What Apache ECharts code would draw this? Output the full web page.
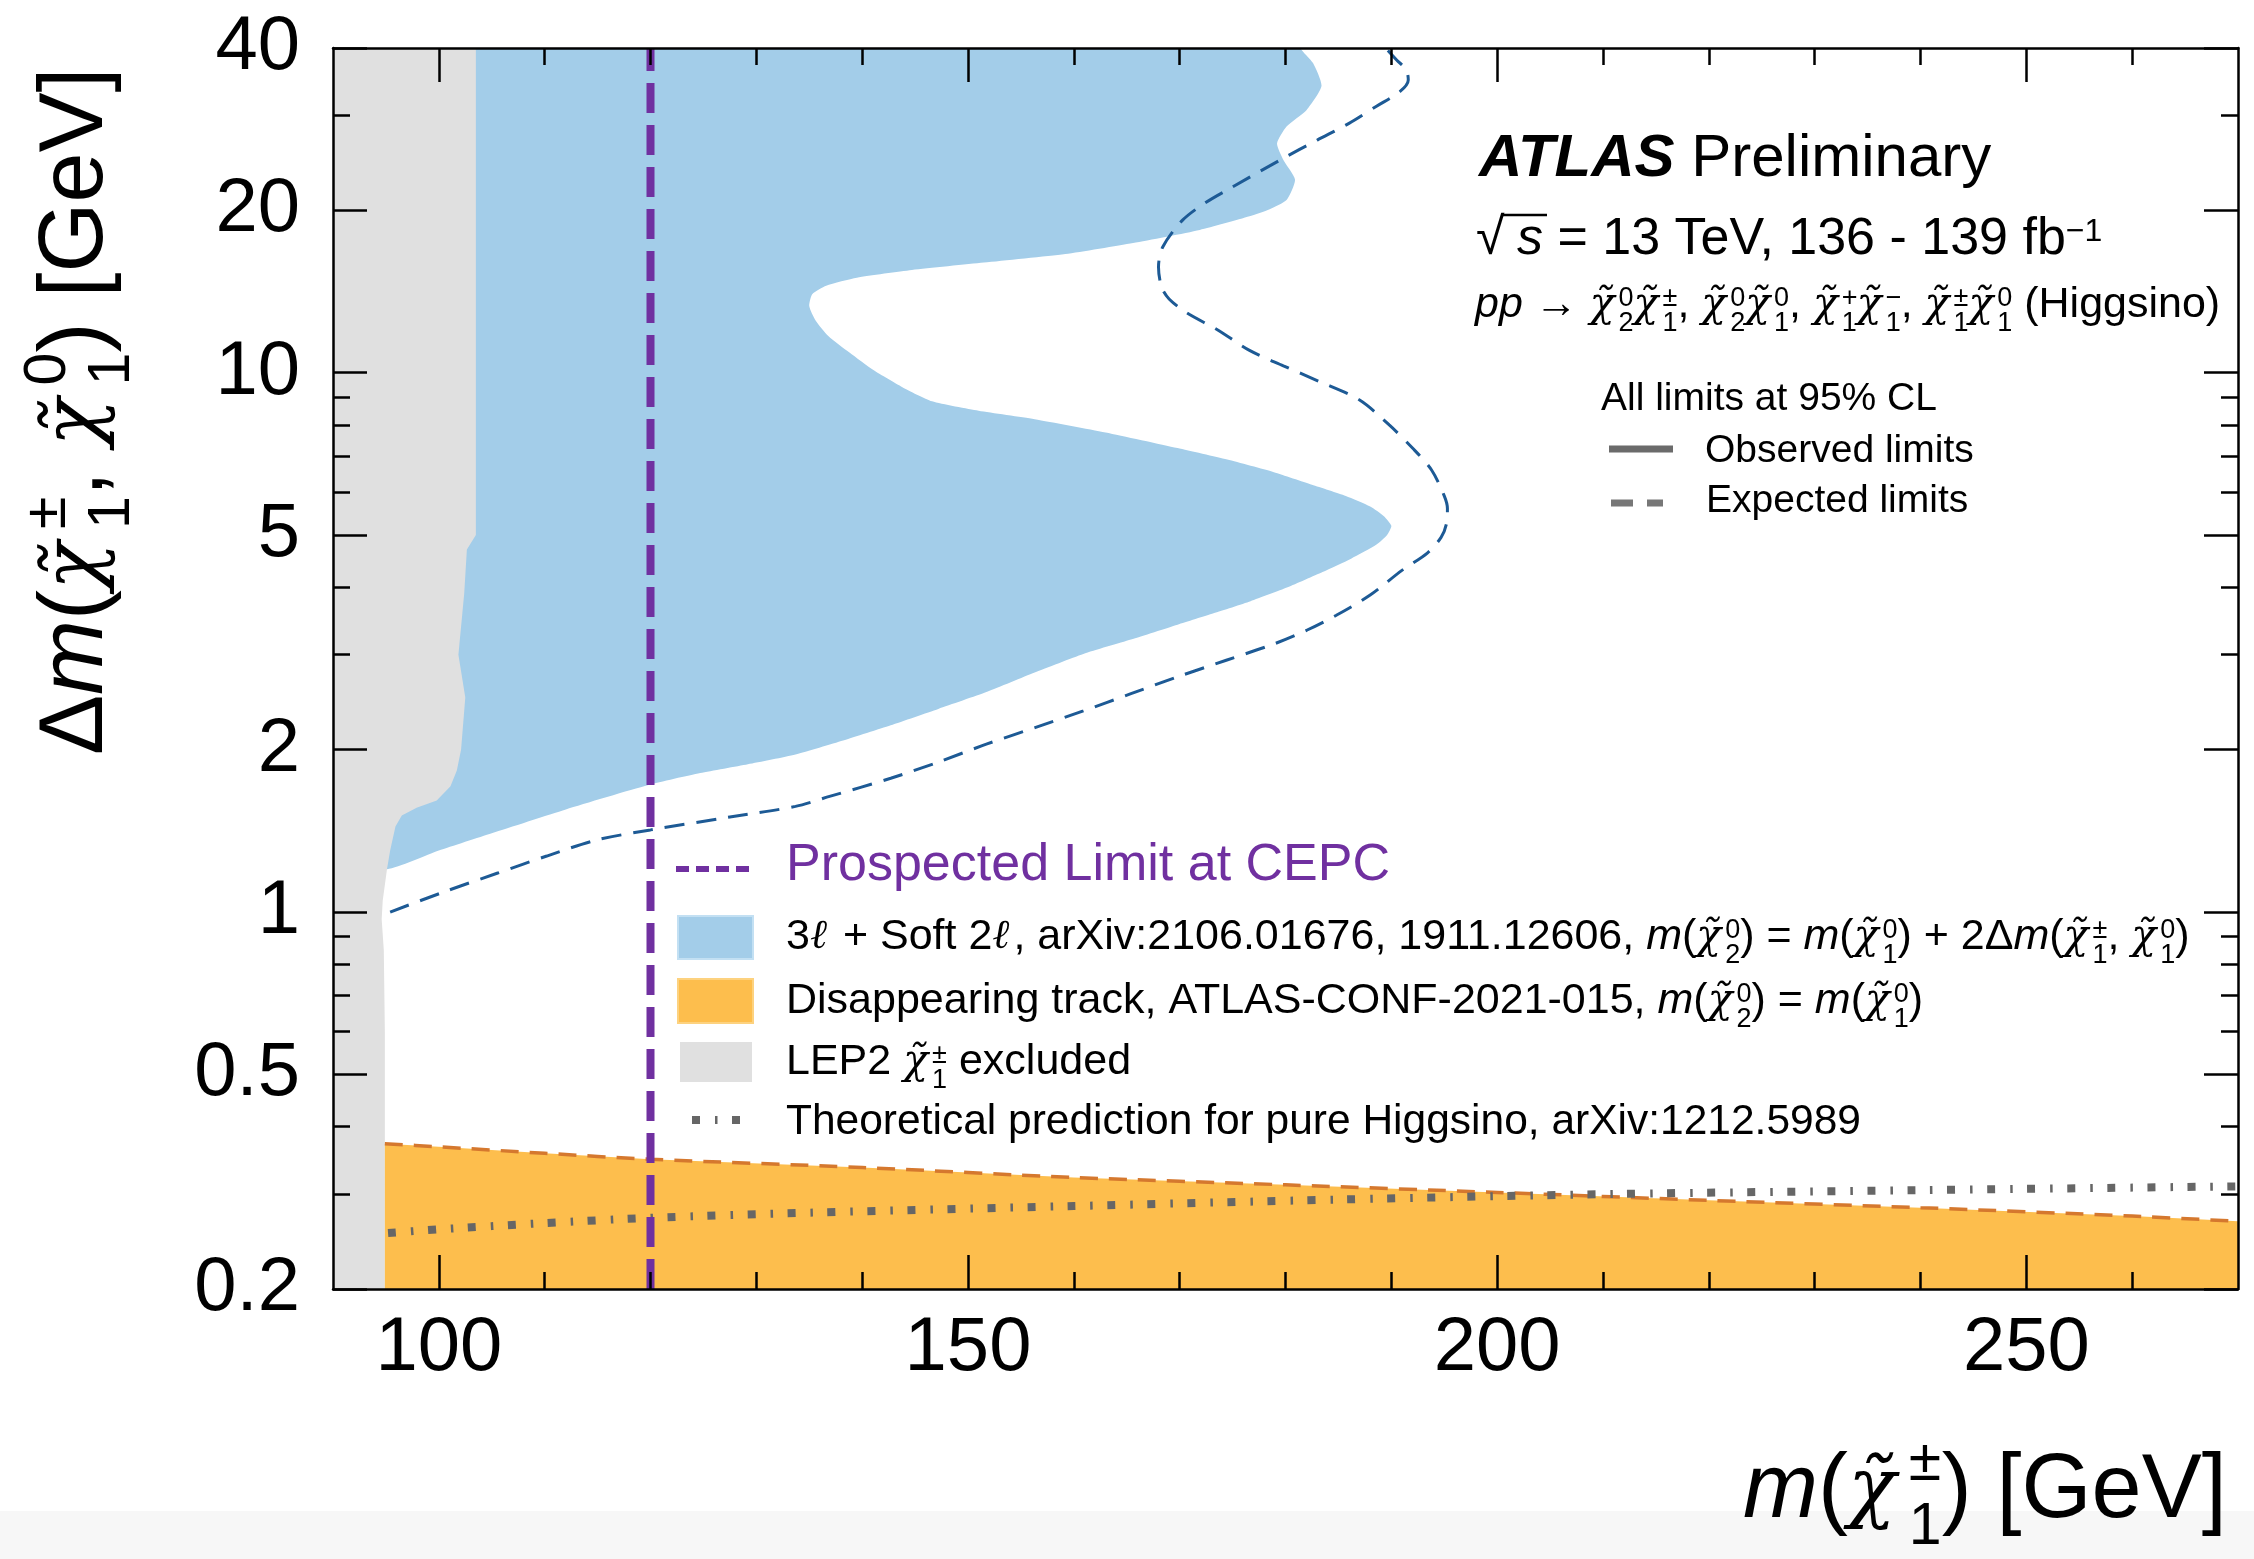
<!DOCTYPE html>
<html><head><meta charset="utf-8">
<script src="https://cdn.jsdelivr.net/npm/echarts@6.0.0/dist/echarts.min.js"></script>
<style>html,body{margin:0;padding:0;background:#fff}#chart{width:2254px;height:1559px}</style>
</head><body><div id="chart"></div>
<script>
// ---------------- data ----------------
const xRange = [90, 270];
const yRange = [0.2, 40];
const xMajorTicks = [100, 150, 200, 250];
const xMinorTicks = [110, 120, 130, 140, 160, 170, 180, 190, 210, 220, 230, 240, 260];
const yMajorTicks = [0.2, 0.5, 1, 2, 5, 10, 20, 40];
const yMinorTicks = [0.3, 0.4, 0.6, 0.7, 0.8, 0.9, 3, 4, 6, 7, 8, 9, 30];
const cepcLimit = 120;

// LEP2 chargino exclusion boundary [m(chi1+-), dm]
const lep2Excluded = [
  [103.5, 44], [103.5, 5.0], [102.65, 4.7], [102.4, 3.9], [101.85, 3.0], [102.5, 2.5],
  [102.1, 2.0], [101.7, 1.83], [101.1, 1.71], [99.8, 1.61], [97.9, 1.56], [96.5, 1.51],
  [95.9, 1.44], [95.4, 1.30], [95.1, 1.20], [94.7, 1.05], [94.6, 0.97], [94.8, 0.85],
  [94.9, 0.6], [94.9, 0.18]
];
// 3l + soft 2l observed exclusion contour
const softLeptonObserved = [
  [181.0, 44], [181.4, 40], [182.6, 37.5], [183.4, 34.0], [182.0, 30.7], [180.1, 28.6],
  [179.2, 26.6], [179.8, 24.8], [180.9, 22.8], [180.1, 20.9], [178.5, 20.1], [176.6, 19.5],
  [171.9, 18.4], [165.6, 17.4], [159.2, 16.6], [151.5, 16.0], [144.7, 15.5], [139.5, 15.0],
  [136.6, 14.5], [135.3, 14.0], [135.0, 13.3], [135.6, 12.5], [136.8, 11.7], [138.8, 10.9],
  [141.1, 10.1], [143.8, 9.4], [146.6, 8.85], [151.0, 8.5], [156.3, 8.2], [163.0, 7.75],
  [169.8, 7.25], [174.5, 6.9], [178.9, 6.54], [182.5, 6.2], [185.7, 5.91], [188.0, 5.65],
  [189.3, 5.42], [190.0, 5.2], [189.6, 5.0], [188.6, 4.8], [186.2, 4.52], [183.5, 4.27],
  [180.2, 4.0], [176.7, 3.77], [173.2, 3.58], [169.8, 3.41], [165.4, 3.2], [160.9, 3.01],
  [156.3, 2.78], [151.8, 2.56], [147.2, 2.38], [142.7, 2.22], [138.2, 2.08], [133.7, 1.96],
  [129.2, 1.88], [124.7, 1.81], [119.8, 1.72], [112.0, 1.55], [105.0, 1.40], [100.0, 1.30],
  [95.1, 1.20]
];
// 3l + soft 2l expected limit
const softLeptonExpected = [
  [95.4, 1.00], [100.5, 1.09], [105.5, 1.18], [110.2, 1.27], [114.9, 1.36], [120.0, 1.42],
  [127.5, 1.50], [133.7, 1.57], [137.0, 1.64], [142.7, 1.77], [147.3, 1.90], [151.8, 2.05],
  [156.4, 2.20], [160.9, 2.36], [165.4, 2.54], [169.8, 2.73], [174.4, 2.93], [178.9, 3.14],
  [182.0, 3.33], [184.8, 3.55], [188.0, 3.87], [191.0, 4.30], [193.4, 4.63], [194.7, 4.95],
  [195.2, 5.24], [195.3, 5.6], [195.0, 5.91], [193.8, 6.6], [192.0, 7.25], [189.8, 8.0],
  [187.0, 8.9], [183.1, 9.65], [179.8, 10.3], [176.6, 11.0], [173.6, 12.0], [170.7, 12.9],
  [169.0, 13.7], [168.3, 14.4], [168.0, 15.7], [168.4, 17.1], [170.3, 19.2], [172.5, 20.7],
  [175.0, 22.1], [179.5, 24.8], [183.0, 27.0], [186.0, 29.0], [188.6, 31.2], [190.8, 33.2],
  [191.6, 34.9], [191.4, 36.5], [190.5, 38.0], [189.2, 40.5]
];
// Disappearing track observed limit (upper edge)
const disappearingTrackObserved = [
  [94.9, 0.372], [100, 0.367], [110, 0.357], [120, 0.348], [140, 0.336], [160, 0.322],
  [180, 0.312], [200, 0.302], [220, 0.292], [240, 0.283], [260, 0.273], [270, 0.267]
];
// Pure Higgsino theoretical mass splitting
const higgsinoTheory = [
  [95.2, 0.254], [100, 0.258], [110, 0.265], [120, 0.271], [135, 0.277], [160, 0.285],
  [185, 0.293], [211, 0.300], [240, 0.305], [270, 0.310]
];

// ---------------- helpers ----------------
const FONT = '"Liberation Sans", Arial, Helvetica, sans-serif';
const lg = Math.log10;
const toXY = pts => pts.map(p => [p[0], lg(p[1])]);
const X0 = xRange[0] - 5;

function area(name, pts, color, z, smooth) {
  const poly = toXY(pts);
  return {
    type: 'custom', name: name, z: z, silent: true,
    xAxisIndex: 0, yAxisIndex: 0,
    data: [poly[0]],
    renderItem: function (params, api) {
      const cs = params.coordSys;
      return {
        type: 'polygon',
        shape: { points: poly.map(p => api.coord(p)), smooth: smooth || 0 },
        style: { fill: color, stroke: null, lineWidth: 0 },
        clipPath: { type: 'rect', shape: { x: cs.x, y: cs.y, width: cs.width, height: cs.height } }
      };
    }
  };
}
const tickStyle = { color: '#000', width: 2.5 };
function xAx(pos, vals, len, line, label) {
  return {
    type: 'value', min: xRange[0], max: xRange[1], position: pos, z: 20,
    axisLine: { show: line, onZero: false, lineStyle: tickStyle },
    axisTick: { show: true, inside: true, length: len, customValues: vals, lineStyle: tickStyle },
    axisLabel: label ? { show: true, customValues: vals, fontSize: 76, fontFamily: FONT, color: '#000', margin: 22 } : { show: false },
    splitLine: { show: false }, minorTick: { show: false }
  };
}
function yAx(pos, vals, len, line, label) {
  const lv = vals.map(lg);
  return {
    type: 'value', min: lg(yRange[0]), max: lg(yRange[1]), position: pos, z: 20,
    axisLine: { show: line, onZero: false, lineStyle: tickStyle },
    axisTick: { show: true, inside: true, length: len, customValues: lv, lineStyle: tickStyle },
    axisLabel: label ? {
      show: true, customValues: lv, fontSize: 76, fontFamily: FONT, color: '#000', margin: 33,
      showMinLabel: true, showMaxLabel: true,
      formatter: v => String(parseFloat(Math.pow(10, v).toPrecision(2)))
    } : { show: false },
    splitLine: { show: false }, minorTick: { show: false }
  };
}
// scripts positioned relative to the line centre via padding (verticalAlign middle)
function rich(fs, big) {
  const sc = big ? 0.66 : 0.62;
  const supOff = big ? -0.31 : -0.14;
  const subOff = big ? 0.40 : 0.44;
  const sub = Math.round(fs * sc);
  const script = (pad) => ({ fontFamily: FONT, fontSize: sub, lineHeight: sub, verticalAlign: 'middle', align: 'left', fill: '#000', padding: pad });
  const sup = script([0, 0, Math.round(-2 * supOff * fs), 0]);
  const s0 = Object.assign({}, sup, { width: 0 });
  const sb = script([Math.round(2 * subOff * fs), 0, 0, 0]);
  return {
    i: { fontFamily: FONT, fontSize: fs, fontStyle: 'italic', align: 'left', fill: '#000' },
    b: { fontFamily: FONT, fontSize: fs, fontStyle: 'italic', fontWeight: 'bold', align: 'left', fill: '#000' },
    c: { fontFamily: '"DejaVu Serif", serif', fontSize: Math.round(fs * (big ? 0.88 : 0.95)), fontStyle: 'italic', align: 'left', fill: '#000',
         padding: [0, Math.round(fs * (big ? 0.14 : 0.09)), 0, 0] },
    r: { fontFamily: FONT, fontSize: fs, fill: '#000', align: 'left', width: Math.round(fs * 0.78) },
    s0: s0, sp: sup, sb: sb
  };
}
function txt(x, y, text, fs, extra, big) {
  return {
    type: 'text', x: x, y: y, z: 100, silent: true,
    style: Object.assign({
      text: text, fontSize: fs, fontFamily: FONT, fill: '#000',
      align: 'left', verticalAlign: 'middle', textAlign: 'left', textVerticalAlign: 'middle',
      lineHeight: Math.round(fs * 1.25), rich: rich(fs, big)
    }, extra || {})
  };
}
function seg(x1, y1, x2, y2, color, w, dash) {
  return { type: 'line', z: 100, silent: true, shape: { x1, y1, x2, y2 },
    style: { stroke: color, lineWidth: w, lineDash: dash || null, lineCap: 'butt' } };
}
function box(x, y, w, h, fill, stroke) {
  return { type: 'rect', z: 100, silent: true, shape: { x, y, width: w, height: h },
    style: { fill: fill, stroke: stroke || null, lineWidth: stroke ? 2 : 0 } };
}

const C = '{c|χ̃}';
const BLUE = '#a3cde9', ORANGE = '#fdbe4d', GREY = '#e0e0e0', PURPLE = '#7030a0';

const graphics = [
  { type: 'rect', z: 0, silent: true, shape: { x: 0, y: 1511, width: 2254, height: 48 }, style: { fill: '#f7f7f7' } },
  // ATLAS header
  txt(1479, 159, '{b|ATLAS} Preliminary', 60),
  txt(1476, 240, '{r|√}{i|s} = 13 TeV, 136 - 139 fb{sp|−1}', 52),
  seg(1503, 215, 1547, 215, '#000', 2.5),
  txt(1475, 305, '{i|pp} → ' + C + '{s0|0}{sb|2}' + C + '{s0|±}{sb|1}, ' + C + '{s0|0}{sb|2}' + C + '{s0|0}{sb|1}, ' +
      C + '{s0|+}{sb|1}' + C + '{s0|−}{sb|1}, ' + C + '{s0|±}{sb|1}' + C + '{s0|0}{sb|1} (Higgsino)', 43),
  txt(1601, 399, 'All limits at 95% CL', 39),
  seg(1609, 449, 1673, 449, '#6b6b6b', 7),
  txt(1705, 451, 'Observed limits', 39),
  seg(1611, 503, 1663, 503, '#777', 7, [22, 14]),
  txt(1706, 501, 'Expected limits', 39),
  // lower legend
  seg(676, 869, 750, 869, PURPLE, 6, [13, 7]),
  txt(786, 866, 'Prospected Limit at CEPC', 52, { fill: PURPLE, rich: {} }),
  box(678, 916, 75, 43, BLUE, '#c3e0f3'),
  txt(786, 937, '3{c|ℓ} + Soft 2{c|ℓ}, arXiv:2106.01676, 1911.12606, {i|m}(' + C + '{s0|0}{sb|2}) = {i|m}(' + C +
      '{s0|0}{sb|1}) + 2Δ{i|m}(' + C + '{s0|±}{sb|1}, ' + C + '{s0|0}{sb|1})', 43),
  box(678, 979, 75, 44, ORANGE, '#fdd27f'),
  txt(786, 1001, 'Disappearing track, ATLAS-CONF-2021-015, {i|m}(' + C + '{s0|0}{sb|2}) = {i|m}(' + C + '{s0|0}{sb|1})', 43),
  box(680, 1042, 72, 40, GREY),
  txt(786, 1062, 'LEP2 ' + C + '{s0|±}{sb|1} excluded', 43),
  seg(692, 1120, 740, 1120, '#666', 8, [8, 15, 2.5, 14.5]),
  txt(786, 1122, 'Theoretical prediction for pure Higgsino, arXiv:1212.5989', 42.5),
  // axis titles (left aligned so zero-width stacked scripts lay out correctly)
  txt(1743, 1492, '{i|m}(' + C + '{s0|±}{sb|1}) [GeV]', 90, null, true),
  Object.assign(txt(77, 755, 'Δ{i|m}(' + C + '{s0|±}{sb|1}, ' + C + '{s0|0}{sb|1}) [GeV]', 90, null, true),
    { rotation: Math.PI / 2 })
];

const chart = echarts.init(document.getElementById('chart'), null, { renderer: 'canvas' });
chart.setOption({
  animation: false,
  backgroundColor: '#ffffff',
  grid: { left: 333, top: 48, width: 1905, height: 1241, containLabel: false, outerBoundsMode: 'none', show: false },
  xAxis: [
    xAx('bottom', xMajorTicks, 34, true, true),
    xAx('bottom', xMinorTicks, 17, false, false),
    xAx('top', xMajorTicks, 34, true, false),
    xAx('top', xMinorTicks, 17, false, false)
  ],
  yAxis: [
    yAx('left', yMajorTicks, 34, true, true),
    yAx('left', yMinorTicks, 17, false, false),
    yAx('right', yMajorTicks, 34, true, false),
    yAx('right', yMinorTicks, 17, false, false)
  ],
  series: [
    area('3l + Soft 2l observed', softLeptonObserved.concat([[X0, 1.2], [X0, 44]]), BLUE, 2, 0.2),
    { type: 'line', name: '3l + Soft 2l expected', data: toXY(softLeptonExpected), symbol: 'none', smooth: 0.3,
      silent: true, z: 3, lineStyle: { color: '#1d5a95', width: 3, type: [20, 12] } },
    area('LEP2 excluded', [[X0, 44]].concat(lep2Excluded, [[X0, 0.18]]), GREY, 4, 0),
    area('Disappearing track', [[disappearingTrackObserved[0][0], 0.18]].concat(disappearingTrackObserved,
      [[disappearingTrackObserved[disappearingTrackObserved.length - 1][0], 0.18]]), ORANGE, 5, 0),
    { type: 'line', name: 'Disappearing track limit', data: toXY(disappearingTrackObserved), symbol: 'none', smooth: 0.3,
      silent: true, z: 6, lineStyle: { color: '#d5782e', width: 3.5, type: [18, 11] } },
    { type: 'line', name: 'Higgsino theory', data: toXY(higgsinoTheory), symbol: 'none', smooth: 0.3,
      silent: true, z: 7, lineStyle: { color: '#666666', width: 8, type: [8, 15, 2.5, 14.5], cap: 'butt' } },
    { type: 'line', name: 'Prospected Limit at CEPC', data: toXY([[cepcLimit, yRange[0]], [cepcLimit, yRange[1]]]),
      symbol: 'none', silent: true, z: 8, lineStyle: { color: PURPLE, width: 8, type: [30, 12] } }
  ],
  graphic: { elements: graphics }
});
</script></body></html>
